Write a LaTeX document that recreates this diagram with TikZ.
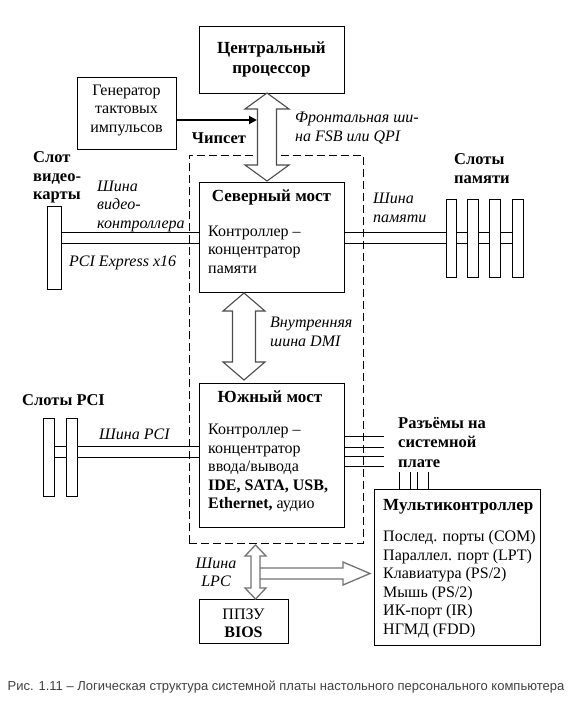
\documentclass[tikz,border=0pt]{standalone}
\usepackage{fontspec}
\setmainfont{Liberation Serif}
\newfontfamily\capfont{Liberation Sans}
\usetikzlibrary{arrows.meta}
\begin{document}
\begin{tikzpicture}[x=1pt,y=-1pt,
  box/.style={draw, line width=0.9pt, inner sep=0pt},
  slotbox/.style={draw, fill=white, line width=0.9pt, inner sep=0pt},
  txt/.style={inner sep=0pt, font=\fontsize{16}{18.5}\selectfont, align=left},
  ttl/.style={inner sep=0pt, font=\fontsize{17}{19}\selectfont\bfseries, align=left},
  lbl/.style={inner sep=0pt, font=\fontsize{16.5}{18.5}\selectfont\bfseries, align=left},
  itl/.style={inner sep=0pt, font=\fontsize{16}{18.5}\selectfont\itshape, align=left},
  bus/.style={line width=0.9pt},
  fatarrow/.style={draw=black!70, line width=1.1pt, line join=miter, fill=white},
  lpcarrow/.style={draw=black!55, line width=1.3pt, line join=miter},
  dashbox/.style={draw, line width=0.9pt, dash pattern=on 8pt off 4pt}
]
\useasboundingbox (0,0) rectangle (573,709);

% chipset dashed frame
\node[dashbox, minimum width=174pt, minimum height=388pt, inner sep=0pt] (chip) at (276,349) {};
\node[lbl, anchor=center] (chipt) at (219,138) {Чипсет};

% CPU
\node[box, minimum width=145pt, minimum height=67pt, align=center,
      font=\fontsize{17}{20}\selectfont\bfseries] (cpu) at (271.5,59.5) {Центральный\\процессор};

% Generator
\node[box, minimum width=99pt, minimum height=72pt] (gen) at (126.5,113) {};
\node[txt, align=center] (gent) at (126.5,110) {Генератор\\тактовых\\импульсов};

% North bridge
\node[box, fill=white, minimum width=145pt, minimum height=110pt] (nb) at (271.5,237) {};
\node[ttl, anchor=center] (nbt) at (271.5,197) {Северный мост};
\node[txt, anchor=west] (nbb) at (208,249.5) {Контроллер –\\концентратор\\памяти};

% South bridge
\node[box, fill=white, minimum width=145pt, minimum height=144pt] (sb) at (271.5,455) {};
\node[ttl, anchor=center] (sbt) at (270,397) {Южный мост};
\node[txt, anchor=west] (sbb) at (208,468) {Контроллер –\\концентратор\\ввода/вывода\\\textbf{IDE, SATA, USB,}\\\textbf{Ethernet,} аудио};

% Multicontroller
\node[box, minimum width=166pt, minimum height=156pt] (mc) at (457,567) {};
\node[ttl, anchor=west] (mct) at (383,507) {Мультиконтроллер};
\node[txt, anchor=west] (mcb) at (383,584) {Послед. порты (COM)\\Параллел. порт (LPT)\\Клавиатура (PS/2)\\Мышь (PS/2)\\ИК-порт (IR)\\НГМД (FDD)};

% BIOS
\node[box, minimum width=89pt, minimum height=44pt] (bios) at (243.5,621) {};
\node[txt, align=center] (biost) at (243.5,623.5) {ППЗУ\\\textbf{BIOS}};

% clock arrow
\coordinate (clk) at (257,120);
\draw[line width=1.8pt, -{Triangle[length=8pt,width=8pt]}] (gen.east |- clk) -- (clk);

% FSB double arrow
\draw[fatarrow] (267,93) -- (289,109) -- (276.5,109) -- (276.5,165) -- (289,165) -- (267,181)
   -- (245,165) -- (257.5,165) -- (257.5,109) -- (245,109) -- cycle;
\node[itl, anchor=west] (fsbt) at (295,128) {Фронтальная ши-\\на FSB или QPI};

% DMI double arrow
\draw[fatarrow] (244,293) -- (265,311) -- (255.5,311) -- (255.5,362) -- (265,362) -- (244,380)
   -- (223,362) -- (232.5,362) -- (232.5,311) -- (223,311) -- cycle;
\node[itl, anchor=west] (dmit) at (270,332) {Внутренняя\\шина DMI};

% Video slot
\node[slotbox, minimum width=14pt, minimum height=83pt] (vs) at (54,247.5) {};
\draw[bus] (vs.east |- 0,232) -- (nb.west |- 0,232);
\draw[bus] (vs.east |- 0,243) -- (nb.west |- 0,243);
\node[lbl, anchor=west] (vst) at (33,177.5) {Слот\\видео-\\карты};
\node[itl, anchor=west] (vbt) at (97,206) {Шина\\видео-\\контроллера};
\node[itl, anchor=west] (pcie) at (69,263) {PCI Express x16};

% Memory slots
\draw[bus] (nb.east |- 0,232) -- (512,232) coordinate (mend1);
\draw[bus] (nb.east |- 0,243) -- (512,243) coordinate (mend2);
\node[slotbox, minimum width=10pt, minimum height=78pt] (m1) at (451,238) {};
\node[slotbox, minimum width=11pt, minimum height=78pt] (m2) at (472.5,238) {};
\node[slotbox, minimum width=11pt, minimum height=78pt] (m3) at (494.5,238) {};
\node[slotbox, minimum width=11pt, minimum height=78pt] (m4) at (517.5,238) {};
\node[lbl, anchor=west] (mst) at (454,168.5) {Слоты\\памяти};
\node[itl, anchor=west] (mbt) at (373,208) {Шина\\памяти};

% PCI slots
\draw[bus] (54,446) -- (sb.west |- 0,446);
\draw[bus] (54,457) -- (sb.west |- 0,457);
\node[slotbox, minimum width=11pt, minimum height=78pt] (p1) at (48.5,457) {};
\node[slotbox, minimum width=11pt, minimum height=78pt] (p2) at (71.5,457) {};
\node[lbl, anchor=west] (pst) at (22,400) {Слоты PCI};
\node[itl, anchor=west] (pbt) at (99,434) {Шина PCI};

% connectors on board
\foreach \yy in {436,447,456,466} \draw[bus] (sb.east |- 0,\yy) -- (384,\yy);
\foreach \xx in {399,410,417,428} \draw[bus] (\xx,472) -- (mc.north -| \xx,0);
\node[lbl, anchor=west, font=\fontsize{16.5}{19.5}\selectfont\bfseries] (cont) at (398,442.5) {Разъёмы на\\системной\\плате};

% LPC arrows
\draw[lpcarrow, fill=white] (255.5,545) -- (266,556) -- (260,556) -- (260,588) -- (266,588) -- (255.5,599)
   -- (245,588) -- (251,588) -- (251,556) -- (245,556) -- cycle;
\draw[lpcarrow] (260,568) -- (343,568) -- (343,562) -- (370,573.5) -- (343,585) -- (343,579) -- (260,579);
\node[itl, align=center] (lpct) at (216,572.5) {Шина\\LPC};

% caption
\node[inner sep=0pt, font=\capfont\fontsize{13}{15}\selectfont, text=black!75] (cap) at (286,687)
  {Рис. 1.11 – Логическая структура системной платы настольного персонального компьютера};
\end{tikzpicture}
\end{document}
